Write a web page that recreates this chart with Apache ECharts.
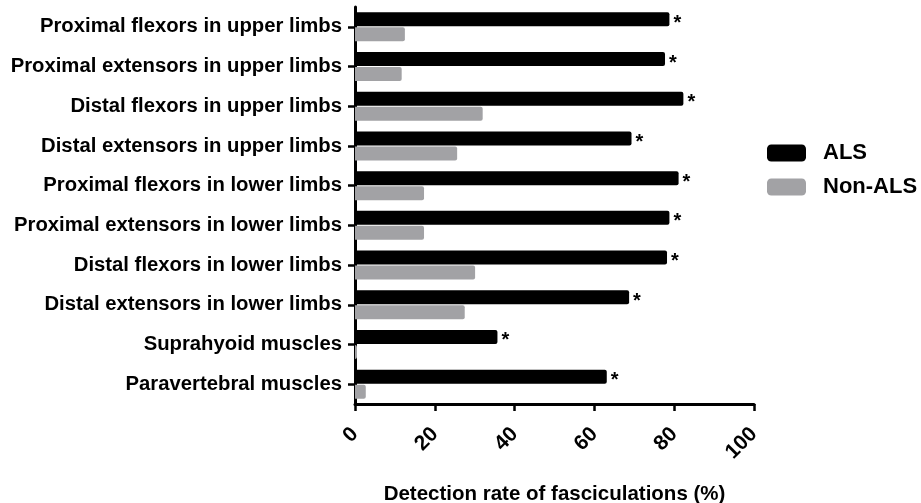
<!DOCTYPE html>
<html>
<head>
<meta charset="utf-8">
<script src="https://cdn.jsdelivr.net/npm/echarts@6/dist/echarts.min.js"></script>
<style>
  html, body { margin: 0; padding: 0; background: #fff; }
  #chart { width: 921px; height: 503px; }
</style>
</head>
<body>
<div id="chart"></div>
<script>
// Muscle groups, top to bottom
const categories = [
  'Proximal flexors in upper limbs',
  'Proximal extensors in upper limbs',
  'Distal flexors in upper limbs',
  'Distal extensors in upper limbs',
  'Proximal flexors in lower limbs',
  'Proximal extensors in lower limbs',
  'Distal flexors in lower limbs',
  'Distal extensors in lower limbs',
  'Suprahyoid muscles',
  'Paravertebral muscles'
];

// Detection rate of fasciculations (%)
const alsValues    = [78.8, 77.7, 82.3, 69.3, 81.1, 78.8, 78.2, 68.7, 35.7, 63.1];
const nonAlsValues = [12.5, 11.7, 32.0, 25.6, 17.3, 17.3, 30.1, 27.5, 0.5, 2.7];

// Significance markers shown after each ALS bar
const significance = ['*', '*', '*', '*', '*', '*', '*', '*', '*', '*'];

const xTicks = [0, 20, 40, 60, 80, 100];

const FONT = '"Liberation Sans", Arial, Helvetica, sans-serif';

const chart = echarts.init(document.getElementById('chart'));

chart.setOption({
  animation: false,
  textStyle: { fontFamily: FONT },
  grid: {
    left: 355, right: 167, top: 7, bottom: 99,
    containLabel: false,
    outerBoundsMode: 'none'
  },
  legend: {
    orient: 'vertical',
    left: 767,
    top: 142,
    padding: 0,
    itemWidth: 39,
    itemHeight: 17,
    itemGap: 12,
    textStyle: { fontFamily: FONT, fontSize: 22, fontWeight: 'bold', color: '#000', padding: [0, 0, 0, 12] },
    data: ['ALS', 'Non-ALS']
  },
  xAxis: {
    type: 'value',
    min: xTicks[0],
    max: xTicks[xTicks.length - 1],
    interval: 20,
    name: 'Detection rate of fasciculations (%)',
    nameLocation: 'middle',
    nameGap: 80,
    nameTextStyle: { fontFamily: FONT, fontSize: 20.5, fontWeight: 'bold', color: '#000' },
    splitLine: { show: false },
    axisLine: { show: true, lineStyle: { color: '#000', width: 3 } },
    axisTick: { show: true, length: 7, lineStyle: { color: '#000', width: 2.5 } },
    axisLabel: {
      rotate: 45,
      margin: 27,
      fontFamily: FONT,
      fontSize: 21,
      fontWeight: 'bold',
      color: '#000'
    }
  },
  yAxis: {
    type: 'category',
    inverse: true,
    data: categories,
    axisLine: { show: true, lineStyle: { color: '#000', width: 3 } },
    axisTick: { show: true, alignWithLabel: true, length: 7, lineStyle: { color: '#000', width: 2.5 } },
    axisLabel: {
      margin: 13,
      fontFamily: FONT,
      fontSize: 20.3,
      fontWeight: 'bold',
      color: '#000'
    }
  },
  series: [
    {
      name: 'ALS',
      type: 'bar',
      data: alsValues,
      barWidth: 14,
      barGap: '7%',
      itemStyle: { color: '#000', borderRadius: [0, 2, 2, 0] },
      label: {
        show: true,
        position: 'right',
        distance: 4,
        formatter: p => significance[p.dataIndex],
        fontFamily: FONT,
        fontSize: 20,
        fontWeight: 'bold',
        color: '#000',
        offset: [0, 4]
      }
    },
    {
      name: 'Non-ALS',
      type: 'bar',
      data: nonAlsValues,
      barWidth: 14,
      itemStyle: { color: '#a2a2a5', borderRadius: [0, 2, 2, 0] }
    }
  ]
});
</script>
</body>
</html>
